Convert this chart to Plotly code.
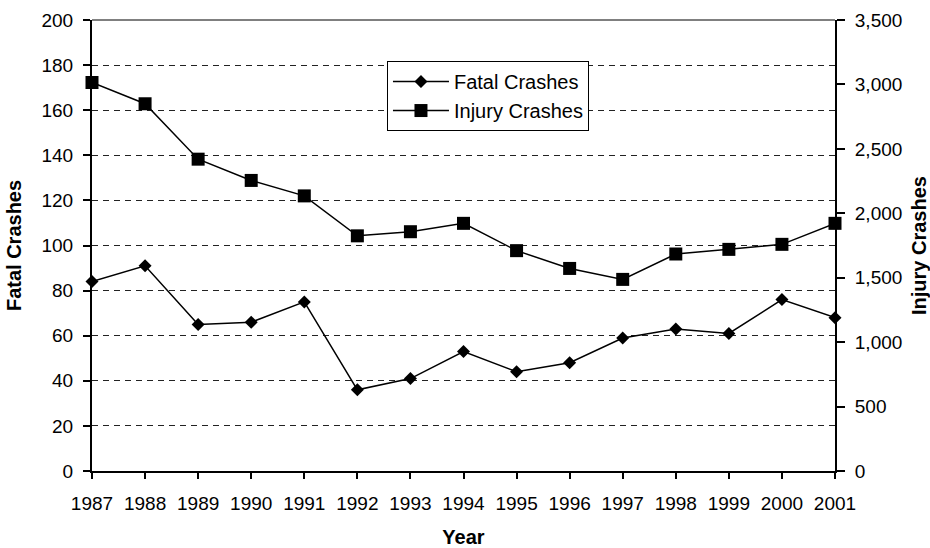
import plotly.graph_objects as go

# Crash counts by year
years = [1987, 1988, 1989, 1990, 1991, 1992, 1993, 1994, 1995, 1996, 1997, 1998, 1999, 2000, 2001]
fatal_crashes = [84, 91, 65, 66, 75, 36, 41, 53, 44, 48, 59, 63, 61, 76, 68]
injury_crashes = [3015, 2850, 2420, 2255, 2135, 1825, 1857, 1922, 1710, 1572, 1487, 1684, 1720, 1759, 1922]

left_ticks = list(range(0, 201, 20))
right_ticks = list(range(0, 3501, 500))

FONT = "Liberation Sans, Arial, sans-serif"

fig = go.Figure()

fig.add_trace(go.Scatter(
    x=years, y=fatal_crashes, name="Fatal Crashes", mode="lines+markers",
    line=dict(color="black", width=1.5),
    marker=dict(symbol="diamond", size=10, color="black"),
    yaxis="y", cliponaxis=False,
))
fig.add_trace(go.Scatter(
    x=years, y=injury_crashes, name="Injury Crashes", mode="lines+markers",
    line=dict(color="black", width=1.5),
    marker=dict(symbol="square", size=13, color="black"),
    yaxis="y2", cliponaxis=False,
))

fig.update_layout(
    width=930, height=548,
    margin=dict(l=92, r=95, t=20, b=77, autoexpand=False),
    paper_bgcolor="white", plot_bgcolor="white",
    font=dict(family=FONT, size=19, color="black"),
    showlegend=True,
    legend=dict(
        x=0.397, y=0.909, xanchor="left", yanchor="top",
        bgcolor="white", bordercolor="black", borderwidth=1,
        font=dict(size=20), tracegroupgap=0,
        itemwidth=56,
    ),
    xaxis=dict(
        range=[1987, 2001], tickvals=years, ticktext=[str(y) for y in years],
        showline=True, linecolor="black", linewidth=2,
        ticks="outside", ticklen=6, tickcolor="black", tickwidth=1.5,
        showgrid=False, zeroline=False, automargin=False,
        ticklabelstandoff=8,
        title=dict(text="<b>Year</b>", standoff=22, font=dict(size=20)),
    ),
    yaxis=dict(
        range=[0, 200], tickvals=left_ticks,
        showline=True, linecolor="black", linewidth=2,
        ticks="outside", ticklen=7, tickcolor="black", tickwidth=1.5,
        showgrid=True, gridcolor="#222", gridwidth=1, griddash="6px,5px",
        zeroline=False, ticklabelstandoff=6, automargin=False,
        title=dict(text="<b>Fatal Crashes</b>", standoff=14, font=dict(size=20)),
    ),
    yaxis2=dict(
        range=[0, 3500], tickvals=right_ticks, tickformat=",",
        overlaying="y", side="right",
        showline=True, linecolor="black", linewidth=2,
        ticks="outside", ticklen=8, tickcolor="black", tickwidth=1.5,
        showgrid=False, zeroline=False, ticklabelstandoff=6, automargin=False,
        title=dict(text="<b>Injury Crashes</b>", standoff=12, font=dict(size=20)),
    ),
    shapes=[dict(type="line", xref="paper", yref="paper", x0=0, x1=1, y0=1, y1=1,
                 line=dict(color="black", width=1))],
)

fig.write_html("out.html")
